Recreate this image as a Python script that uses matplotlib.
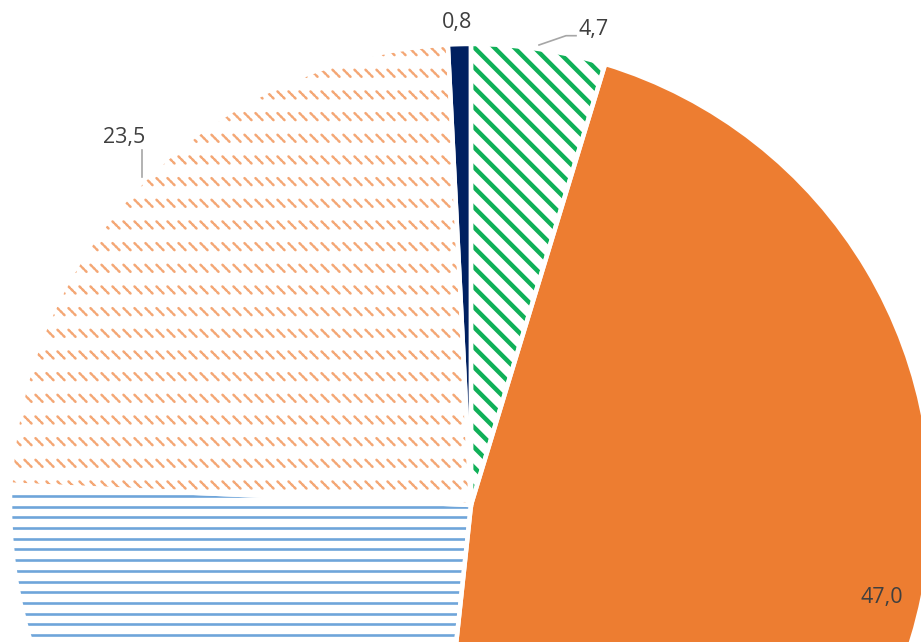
import numpy as np
import matplotlib
matplotlib.use("Agg")
import matplotlib.pyplot as plt
import matplotlib.patches as mpatches
from matplotlib.collections import LineCollection

# ---- data ----
categories = ["Green", "Orange", "Blue", "Light orange", "Navy"]
values = [4.7, 47.0, 24.0, 23.5, 0.8]
labels = ["4,7", "47,0", "24,0", "23,5", "0,8"]

W, H = 921, 642
fig = plt.figure(figsize=(W / 100, H / 100), dpi=100)
ax = fig.add_axes([0, 0, 1, 1])

def Y(img_y):
    return H - img_y

CX, CY, R = 471, Y(505), 461

face = ["white", "#ED7D31", "white", "white", "#002060"]
wedges, _ = ax.pie(values, colors=face, startangle=90, counterclock=False,
                   radius=R, center=(CX, CY), wedgeprops=dict(linewidth=0))
ax.set_xlim(0, W)
ax.set_ylim(0, H)
ax.set_aspect("equal")
ax.axis("off")

# ---- pattern fills (clipped to wedges) ----
# green: diagonal stripes (down-right)
segs = []
for c in np.arange(908.7 - 60 * 20, 908.7 + 60 * 20, 20.0):
    segs.append([(-50, c + 50), (1000, c - 1000)])
lc = LineCollection(segs, colors="#10B058", linewidths=3.2, zorder=2)
ax.add_collection(lc)
lc.set_clip_path(wedges[0])

# blue: horizontal lines
segs = []
for yy in np.arange(506.7 - 10.7 * 5, 700, 10.7):
    segs.append([(-10, Y(yy)), (1000, Y(yy))])
lc = LineCollection(segs, colors="#6FA5DA", linewidths=1.9, zorder=2)
ax.add_collection(lc)
lc.set_clip_path(wedges[2])

# light orange: rows of short diagonal dashes
segs = []
for ry in np.arange(268.3 - 21.67 * 13, 560, 21.67):
    for rx in np.arange(204 - 11 * 20, 520, 11.0):
        segs.append([(rx - 3.5, Y(ry - 3.5)), (rx + 3.5, Y(ry + 3.5))])
lc = LineCollection(segs, colors="#F4A775", linewidths=1.8, zorder=2,
                    linestyles=[(0, (0.9, 0.7))], capstyle="round")
ax.add_collection(lc)
lc.set_clip_path(wedges[3])

# white separators
for w in wedges:
    ax.add_patch(mpatches.Wedge(w.center, w.r, w.theta1, w.theta2,
                                facecolor="none", edgecolor="white",
                                linewidth=3.2, zorder=4))

# ---- labels ----
tc = "#3F3F3F"
fs = 15.5
fam = ["Open Sans", "DejaVu Sans"]
ax.text(457, Y(22.5), labels[4], ha="center", va="center", fontsize=fs, color=tc, family=fam, zorder=6)
ax.text(594, Y(30), labels[0], ha="center", va="center", fontsize=fs, color=tc, family=fam, zorder=6)
ax.text(124, Y(137), labels[3], ha="center", va="center", fontsize=fs, color=tc, family=fam, zorder=6)
ax.text(882, Y(597), labels[1], ha="center", va="center", fontsize=fs, color=tc, family=fam, zorder=6)

# leader lines
ax.plot([539, 566, 576], [Y(45), Y(35.7), Y(35.7)], color="#A6A6A6", lw=1.2, zorder=6)
ax.plot([141.7, 141.7], [Y(150), Y(177)], color="#A6A6A6", lw=1.2, zorder=6)

fig.savefig("out.png", dpi=100)
